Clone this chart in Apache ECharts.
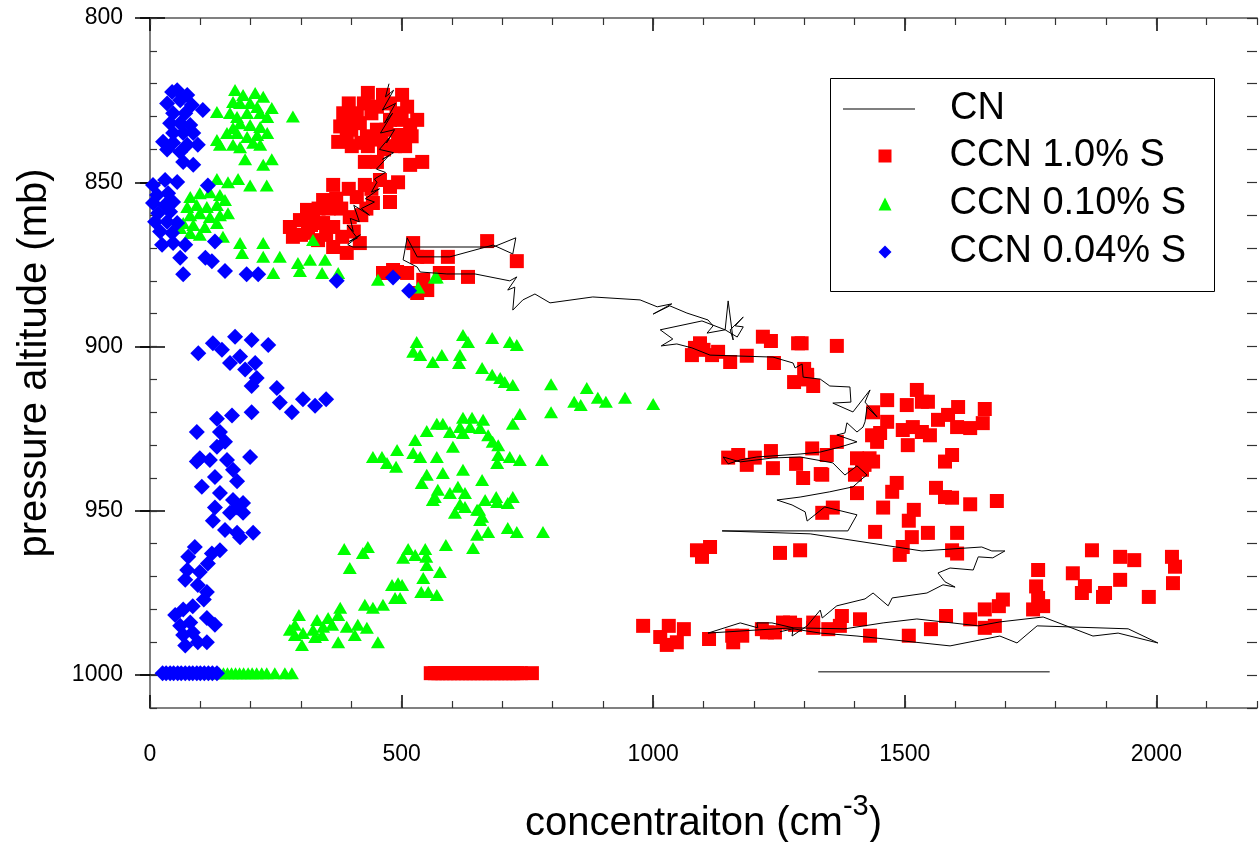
<!DOCTYPE html>
<html>
<head>
<meta charset="utf-8">
<script src="https://cdn.jsdelivr.net/npm/echarts@6.0.0/dist/echarts.min.js"></script>
<style>
html,body{margin:0;padding:0;background:#fff;}
#chart{width:1259px;height:842px;}
</style>
</head>
<body>
<div id="chart"></div>
<script>
// ---- tick labels ----
const xTicks = [0, 500, 1000, 1500, 2000];
const yTicks = [800, 850, 900, 950, 1000];

// ---- CN (line, trajectory order) ----
const cnPath = [
[475,820],[468,824],[484,822],[462,828],[488,826],[466,832],[482,829],[458,835],[486,834],[470,838],[478,836],[456,840],[484,841],[462,843],[474,842],[450,846],[468,847],[446,849],
[451,850],[440,853],[456,852],[428,855],[446,856],[420,858],[436,860],[405,857],[416,862],[398,861],[404,865],[392,863],[412,867],[396,868],[418,866],[393,869],[403,869.7],
[682,869.7],[727,866.9],[721,871.8],[682,869.1],[596,872.7],[531,872.7],[511,866.9],[503,873.6],[531,875.8],[537,877.3],[590,877.9],[646,877.9],[715,880],[729,878.8],[711,882.8],[725,881.9],[721,888.9],[741,885.8],[765,884],[795,886.7],[880,884.9],[974,885.8],[1008,887.9],[1037,887],[1000,890.1],[1033,887.6],[1067,889.8],[1109,891.9],[1119,893.7],[1107,895.9],[1143,894.9],[1149,886.1],[1159,898],[1153,894.9],[1179,891],[1163,893.7],[1179,894],[1167,897.1],[1143,894.9],[1097,892.2],[1014,894.9],[1039,897.7],[1016,899.8],[1047,899.2],[1077,900.4],[1113,902.6],[1238,903.2],[1278,905],[1282,906.5],[1296,905.3],[1298,909.3],[1332,909.9],[1351,912],[1391,912.3],[1393,916.9],[1357,917.2],[1397,919.9],[1431,913.2],[1421,916.9],[1445,921.4],[1425,918.4],[1421,922.9],[1417,924.5],[1405,926],[1385,923.2],[1381,926.3],[1365,926.9],[1405,929],[1371,930.6],[1332,932.1],[1292,932.7],[1206,933.6],[1173,934.5],[1149,935.7],[1139,933.6],[1173,935.1],[1238,933.9],[1292,933.6],[1357,935.4],[1381,939.1],[1405,936.3],[1425,939.1],[1417,940],[1397,942.7],[1351,944.2],[1292,945.8],[1246,946.7],[1276,948.2],[1302,950.3],[1306,953.1],[1341,948.8],[1405,951.2],[1387,956.1],[1318,956.1],[1137,956.1],[1312,957],[1534,962.2],[1653,961],[1673,962.2],[1699,962.2],[1675,964.3],[1646,964],[1636,968],[1590,967.4],[1566,968.9],[1580,971.6],[1600,973.2],[1576,972.5],[1544,975],[1475,976.5],[1467,978.9],[1437,975],[1421,976.8],[1365,978.9],[1357,979.9],[1336,982.6],[1332,980.2],[1306,985],[1276,988.1],[1278,985.6],[1236,984.1],[1206,984.1],[1208,985.6],[1173,984.1],[1109,987.2],[1212,986.2],[1278,985.6],[1381,985.9],[1457,984.1],[1524,982.9],[1646,985],[1689,983.8],[1775,982.3],[1874,988.1],[1924,987.2],[2003,990.2],[1944,985.9],[1763,985],[1723,990.2],[1689,988.1],[1590,991.1],[1405,988.1],[1332,987.2],[1278,985.9],[1252,986.8]
];
const cnSurface = [[1328,999],[1788,999]];

// ---- CCN 1.0% S (red squares) ----
const ccn10 = [
[433,822.8],[463,823.4],[501,823.4],[477,826],[451,827],[511,827],[411,829],[440,829],[490,829],[531,831],[477,831],[417,832],[517,832.6],[378,833],[451,834],[400,834],[460,836],[493,835.6],[391,835],[431,836],[374,837.7],[401,839],[433,839],[487,839],[507,839],[420,838],[445,837],[470,834],[500,831],[425,826],[520,836],[427,843.8],[451,843.8],[517,844.7],[541,843.8],[465,840],[384,829],[395,826],[391,831],
[493,850],[477,851.4],[457,849.3],[427,850.8],[477,856],[364,850.8],[411,854.5],[443,856.3],[344,855.4],[312,858.4],[324,860.6],[298,861.5],[278,863.6],[284,866.6],[314,865.4],[344,862.4],[364,863.6],[334,867.6],[364,869.7],[391,871.5],[417,868.5],[382,866.6],[397,860.6],[380,858],[355,858],[335,858],[395,852],[420,860],[440,852],[300,866],[350,866],[320,863],[370,855],[405,865],[430,858],
[523,868.5],[670,867.9],[729,874],[531,872.7],[551,872.7],[592,872.7],[576,877.6],[592,877.6],[632,878.8],[491,877.3],[511,877.6],[471,877.6],[543,879.7],[551,882.8],[531,883.7],[463,877.6],[483,876.7],
[1093,899],[1083,900.4],[1077,902.6],[1117,902.6],[1129,901.6],[1153,904.7],[1186,902.8],[1218,897],[1234,898.3],[1288,899],[1365,899.8],[1240,905],[1300,906.8],[1280,910.8],[1306,910],[1318,912],[1306,908.6],[1100,901],[1295,899],
[1465,916.3],[1524,913.2],[1504,917.8],[1534,916.8],[1546,916.8],[1437,920],[1465,922.9],[1451,926.3],[1435,927],[1445,929],[1496,925.4],[1516,924.5],[1534,926],[1550,927],[1566,922.3],[1586,920.8],[1606,918.4],[1604,924.5],[1630,924.8],[1655,923.3],[1659,919],[1316,931],[1345,933],[1365,929],[1405,934],[1415,937.5],[1437,935],[1506,930],[1401,939],[1594,933],[1580,935],[1336,939],[1298,940],[1484,941.5],[1475,944.2],[1562,943],[1580,945.8],[1594,946],[1405,944.6],[1457,949],[1518,949.7],[1630,948],[1683,947],[1357,949],[1336,950.6],[1508,953],[1441,956.4],[1546,956.7],[1604,956.7],[1514,958],[1496,961],[1594,962],[1604,963],[1490,963.4],[1292,962],
[1149,933.8],[1169,933],[1186,936],[1202,933.8],[1234,931.8],[1238,937],[1284,935.7],[1333,938.8],[1420,936],[1430,934],
[1087,962],[1113,961],[1097,964],[1252,962.8],
[1872,962],[1928,964],[1956,965],[2031,964],[2037,967],[2033,972],[1765,968],[1761,973],[1834,969],[1858,972.9],[1852,975],[1898,975],[1894,976.2],[1928,971],[1985,976.2],[1765,976.5],[1775,979],[1755,980],[1695,977],
[980,985],[1014,988.4],[1031,985],[1061,986],[1027,990.8],[1047,990],[1111,989],[1157,988],[1159,990],[1177,988],[1216,986],[1226,987],[1242,987],[1258,984],[1272,984],[1282,984.7],[1318,984],[1318,985.6],[1348,986],[1375,982],[1371,985],[1411,983],[1431,988],[1508,988],[1552,986],[1582,982],[1630,983],[1659,980],[1659,985.6],[1679,985],[1687,979],
[558,999.4],[566,999.4],[573,999.4],[581,999.4],[589,999.4],[596,999.4],[604,999.4],[612,999.4],[620,999.4],[628,999.4],[636,999.4],[643,999.4],[651,999.4],[659,999.4],[667,999.4],[675,999.4],[683,999.4],[690,999.4],[698,999.4],[706,999.4],[714,999.4],[722,999.4],[730,999.4],[737,999.4],[759,999.4]
];

// ---- CCN 0.10% S (green triangles) ----
const ccn010 = [
[169,821.9],[185,823.4],[209,822.8],[225,824],[242,827.4],[165,825.6],[179,825.9],[199,825.9],[213,827.1],[159,828.9],[173,830.1],[193,828.9],[219,828.9],[233,830.1],[179,832],[199,832.6],[219,833.2],[165,833.5],[153,835],[173,835],[193,836.2],[213,835.6],[233,835],[133,837.1],[139,838.6],[165,838.6],[179,839.3],[205,838],[219,838.6],[133,828.6],[284,830],[189,843],[225,844.7],[242,843],
[133,849],[155,850],[175,849],[199,851],[232,851],[80,854.5],[99,853.3],[119,853],[139,853.9],[149,855.4],[74,857.5],[93,856.9],[113,857.5],[133,856.9],[80,860],[99,859.4],[119,860.6],[139,860],[66,862.4],[86,863],[109,863.6],[133,862.4],[60,863.9],[80,865.4],[99,866],[145,866.6],[155,859.4],
[179,868.5],[225,868.5],[183,871.5],[225,872.7],[258,872.7],[294,874.6],[318,873.6],[348,873.6],[245,877.6],[298,877],[342,877.6],[374,877.6],[453,879.7],[566,879],[324,867.6],[570,879],[533,882],
[622,896.5],[632,898.6],[680,897.4],[715,898.6],[729,899.5],[530,898.6],[523,901.6],[537,902.6],[580,902.6],[616,902.6],[562,904.7],[614,905],[660,906.5],[680,908.6],[696,909.6],[705,910.8],[721,911.7],[797,911.5],[868,912.6],[843,916.8],[856,917.8],[890,915.6],[906,916.8],[944,915.6],[1000,917.5],[797,920],[735,920.5],
[570,923.5],[582,923.5],[550,925.7],[596,926],[622,921.7],[640,921.7],[662,922.3],[616,924.5],[622,926.3],[636,924.5],[656,924.8],[672,927],[681,929],[692,930],[721,923.5],[602,930.5],[527,928.4],[523,932.4],[537,933.6],[443,933.6],[461,933.6],[491,931.5],[471,935.4],[489,936.6],[570,933.6],[692,933],[715,933.6],[735,934.5],[779,934.5],[690,935.4],[550,939],[582,938.5],[622,937.5],[660,940.6],[540,941.5],[572,943.6],[596,944.6],[612,942.7],[626,944.6],[566,945.8],[666,946.7],[688,945.8],[721,945.8],[711,947.6],[606,950.6],[626,948.8],[654,949.7],[660,951.8],[562,946.7],[616,948],[650,949.7],[690,947.3],[656,952.8],[650,957.3],[672,956.4],[711,955.2],[729,956.4],[781,956.4],[588,960.4],[642,961.3],
[386,961.6],[423,962.8],[433,961],[397,967.4],[513,961.6],[503,964.3],[527,963.4],[547,961.6],[549,964],[550,966.5],[576,968.6],[543,970.4],[481,972.6],[493,972],[501,972.6],[539,974.7],[553,974.7],[570,975.6],[487,976.5],[497,976.5],[463,978.6],[427,978.6],[443,979.5],[378,979.5],[296,981.7],[288,984.7],[332,983.2],[354,982.6],[374,981.7],[278,986.2],[304,987.2],[324,986.2],[344,985.3],[362,984.7],[391,985.3],[413,984.7],[431,985.6],[407,987.8],[328,988.4],[342,987.8],[288,987.8],[374,990],[302,990.8],[453,990],
[122,999.4],[130,999.4],[138,999.4],[146,999.4],[154,999.4],[162,999.4],[170,999.4],[178,999.4],[186,999.4],[195,999.4],[203,999.4],[212,999.4],[222,999.4],[232,999.4],[248,999.4],[268,999.4],[282,999.4]
];

// ---- CCN 0.04% S (blue diamonds) ----
const ccn004 = [
[44,822.5],[74,823.4],[60,825],[34,826],[83,826.5],[105,828],[46,829],[70,829],[40,832],[60,832],[80,832.6],[46,835],[66,835],[86,835],[26,837.7],[46,838],[74,838.6],[95,838.6],[34,840],[60,840.8],[66,843.8],[86,844.7],[54,822],
[6,850.8],[30,849.3],[54,849.9],[14,853.9],[36,853.3],[6,856.3],[30,856.9],[46,856],[16,859.4],[40,859],[10,862],[34,862],[54,862.4],[20,865],[44,865.4],[24,869],[46,868.5],[70,869],[60,873],
[115,851],[129,868],[110,873],[123,874],[66,878],[149,877],[192,878],[215,878],[371,880],[483,879],[515,883],
[96,902],[125,899],[143,901],[169,897],[202,898],[235,899.5],[159,905],[179,903],[189,907],[209,905],[212,909.6],[202,912],[252,912.6],[258,917],[282,920],[304,916],[328,918],[350,916],[202,920],[93,926],[133,922],[163,921],[139,926],[149,929],[99,934],[93,935],[119,934.5],[133,930.5],[153,934.5],[165,937.5],[199,933.6],[173,941],[103,942.7],[129,939.7],[139,944.6],[165,946.7],[185,947.6],[129,949],[159,950.6],
[173,949],[185,950.6],[125,953],[149,955.8],[173,956.7],[205,956.7],[179,958],[89,961],[139,962],[123,963],[76,964],[115,966],[74,968],[99,968.6],[70,971],[95,972.6],[113,974.7],[107,977],[85,979],[50,981.7],[66,980],[80,984],[113,982.6],[129,984.7],[60,985],[85,987],[66,987.8],[113,990],[70,991],[95,990],
[25,999.4],[32,999.4],[40,999.4],[47,999.4],[55,999.4],[62,999.4],[70,999.4],[78,999.4],[85,999.4],[93,999.4],[100,999.4],[108,999.4],[116,999.4],[124,999.4],[133,999.4]
];

// ---------------------------------------------------------------
const FONT = '"Liberation Sans", Arial, Helvetica, sans-serif';
const GRAY = '#808080';
const minorX = []; for (let v = 0; v <= 2200; v += 100) minorX.push(v);
const minorY = []; for (let v = 800; v <= 1010; v += 10) minorY.push(v);

function xAx(extra) {
  return Object.assign({
    type: 'value', min: 0, max: 2200, interval: 100, gridIndex: 0,
    splitLine: { show: false }, axisLabel: { show: false },
    axisLine: { show: false }, axisTick: { show: false }
  }, extra);
}
function yAx(extra) {
  return Object.assign({
    type: 'value', min: 800, max: 1010, interval: 10, inverse: true, gridIndex: 0,
    splitLine: { show: false }, axisLabel: { show: false },
    axisLine: { show: false }, axisTick: { show: false }
  }, extra);
}
const majorTick = (len, inside, vals) => ({ show: true, inside: inside, length: len, customValues: vals, lineStyle: { color: '#000', width: 1.5 } });
const minorTickS = (len, vals) => ({ show: true, inside: true, length: len, customValues: vals, lineStyle: { color: '#333', width: 1.2 } });
const plain = v => String(v);

const chart = echarts.init(document.getElementById('chart'), null, { renderer: 'canvas' });

chart.setOption({
  animation: false,
  backgroundColor: '#fff',
  grid: { left: 150, right: 2, top: 18, bottom: 134, containLabel: false, outerBoundsMode: 'none' },
  xAxis: [
    xAx({
      position: 'bottom',
      axisLine: { show: true, lineStyle: { color: GRAY, width: 2 } },
      axisTick: majorTick(13, true, xTicks),
      axisLabel: { show: true, customValues: xTicks, formatter: plain, margin: 35, fontSize: 23, fontFamily: FONT, color: '#000' },
      name: 'concentraiton (cm{sup|-3})',
      nameLocation: 'middle', nameGap: 84,
      nameTextStyle: { fontSize: 40, fontFamily: FONT, color: '#000',
        rich: { sup: { fontSize: 29, fontFamily: FONT, color: '#000', padding: [0, 0, 34, 0] } } }
    }),
    xAx({ position: 'bottom', axisTick: minorTickS(7, minorX) }),
    xAx({ position: 'top', axisLine: { show: true, lineStyle: { color: GRAY, width: 2 } }, axisTick: majorTick(13, true, xTicks) }),
    xAx({ position: 'top', axisTick: minorTickS(7, minorX) })
  ],
  yAxis: [
    yAx({
      position: 'left',
      axisLine: { show: true, lineStyle: { color: GRAY, width: 2 } },
      axisTick: majorTick(10, false, yTicks),
      axisLabel: { show: true, customValues: yTicks, formatter: plain, margin: 27, fontSize: 23, fontFamily: FONT, color: '#000' },
      name: 'pressure altitude (mb)',
      nameLocation: 'middle', nameGap: 95,
      nameTextStyle: { fontSize: 40, fontFamily: FONT, color: '#000' }
    }),
    yAx({ position: 'left', axisTick: majorTick(15, true, yTicks) }),
    yAx({ position: 'left', axisTick: minorTickS(7, minorY) }),
    yAx({ position: 'right', axisLine: { show: true, lineStyle: { color: GRAY, width: 2 } }, axisTick: majorTick(15, true, yTicks) }),
    yAx({ position: 'right', axisTick: minorTickS(10, minorY) })
  ],
  legend: [
    {
      data: [{ name: 'CN', icon: 'rect' }], left: 843, top: 90, padding: 0, itemWidth: 72, itemHeight: 1.2, selectedMode: false,
      formatter: n => '{t|' + n + '}',
      textStyle: { rich: { t: { fontSize: 38, fontFamily: FONT, color: '#000', lineHeight: 42, padding: [0, 0, 0, 30] } } }
    },
    {
      data: ['CCN 1.0% S', 'CCN 0.10% S', 'CCN 0.04% S'], orient: 'vertical', padding: 0,
      left: 878.5, top: 137, itemWidth: 13, itemHeight: 13, itemGap: 10, selectedMode: false,
      formatter: n => '{t|' + n + '}',
      textStyle: { rich: { t: { fontSize: 38, fontFamily: FONT, color: '#000', lineHeight: 42, padding: [0, 0, 0, 53] } } }
    }
  ],
  graphic: [
    { type: 'rect', left: 828, top: 76, shape: { width: 384, height: 213 }, style: { fill: null, stroke: '#000', lineWidth: 1 }, silent: true }
  ],
  series: [
    { name: 'CCN 1.0% S', type: 'scatter', data: ccn10, symbol: 'rect', symbolSize: 14,
      itemStyle: { color: '#ff0000', opacity: 1 }, silent: true, z: 2 },
    { name: 'CCN 0.10% S', type: 'scatter', data: ccn010, symbol: 'triangle', symbolSize: [14, 12],
      itemStyle: { color: '#00ff00', opacity: 1 }, silent: true, z: 3 },
    { name: 'CCN 0.04% S', type: 'scatter', data: ccn004, symbol: 'diamond', symbolSize: 16,
      itemStyle: { color: '#0000ff', opacity: 1 }, silent: true, z: 4 },
    { name: 'CN', type: 'line', data: cnPath, symbol: 'none', showSymbol: false,
      lineStyle: { color: '#000', width: 1 }, itemStyle: { color: '#000' }, silent: true, z: 5 },
    { name: 'CN', type: 'line', data: cnSurface, symbol: 'none', showSymbol: false,
      lineStyle: { color: '#000', width: 1 }, itemStyle: { color: '#000' }, silent: true, z: 5 }
  ]
});
</script>
</body>
</html>
